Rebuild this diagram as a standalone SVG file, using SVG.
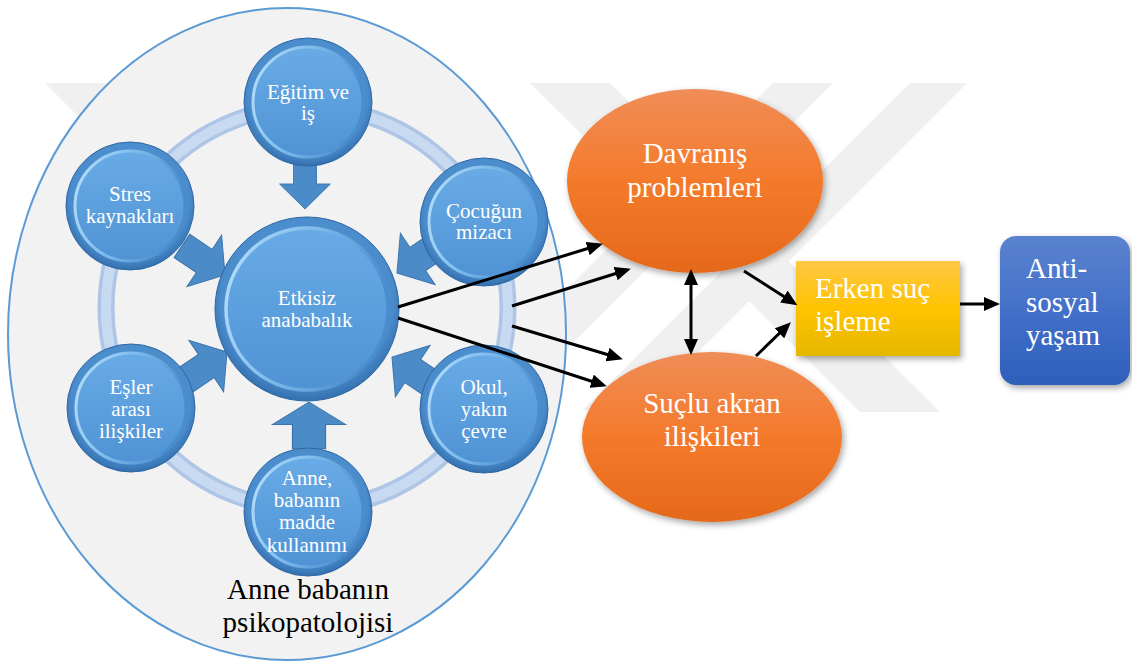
<svg xmlns="http://www.w3.org/2000/svg" xmlns:xlink="http://www.w3.org/1999/xlink" width="1132" height="664" viewBox="0 0 1132 664">
  <style>
    .wm { fill: #f0f0f0; }
    text { font-family: "Liberation Serif", "Times New Roman", serif; }
    .sat-t { font-size: 21px; fill: #ffffff; text-anchor: middle; }
    .big-t { font-size: 29px; fill: #ffffff; text-anchor: middle; }
    .box-t { font-size: 29px; fill: #ffffff; }
    .lbl-t { font-size: 29px; fill: #000000; text-anchor: middle; }
    .blk { fill: #4b8bc8; stroke: #3b74ad; stroke-width: 1; }
    .conn { stroke: #000000; stroke-width: 3; fill: none; }
  </style>
  <defs>
    <radialGradient id="gBallOuter" cx="50%" cy="45%" r="55%">
      <stop offset="0" stop-color="#5d9fdc"/>
      <stop offset="0.85" stop-color="#4a8bcb"/>
      <stop offset="1" stop-color="#336fae"/>
    </radialGradient>
    <linearGradient id="gBallInner" x1="0" y1="0" x2="0" y2="1">
      <stop offset="0" stop-color="#68abe6"/>
      <stop offset="1" stop-color="#4f93d5"/>
    </linearGradient>
    <linearGradient id="gBallRim" x1="0" y1="0" x2="1" y2="0.3">
      <stop offset="0" stop-color="#b9e1fb"/>
      <stop offset="0.5" stop-color="#7fbcec"/>
      <stop offset="1" stop-color="#4a8dcf"/>
    </linearGradient>
    <linearGradient id="gOrange" x1="0" y1="0" x2="0" y2="1">
      <stop offset="0" stop-color="#f08d57"/>
      <stop offset="0.5" stop-color="#f47a2b"/>
      <stop offset="1" stop-color="#e5691b"/>
    </linearGradient>
    <linearGradient id="gGold" x1="0" y1="0" x2="0" y2="1">
      <stop offset="0" stop-color="#ffc845"/>
      <stop offset="0.5" stop-color="#ffc300"/>
      <stop offset="1" stop-color="#e6b700"/>
    </linearGradient>
    <linearGradient id="gBlue" x1="0" y1="0" x2="0" y2="1">
      <stop offset="0" stop-color="#5a83cf"/>
      <stop offset="0.5" stop-color="#4370c8"/>
      <stop offset="1" stop-color="#2d5fbb"/>
    </linearGradient>
    <filter id="shadow" x="-20%" y="-20%" width="140%" height="140%">
      <feDropShadow dx="2" dy="3" stdDeviation="3" flood-color="#000000" flood-opacity="0.35"/>
    </filter>
    <marker id="ah" viewBox="0 0 16 14" markerWidth="16" markerHeight="14" refX="12" refY="7" orient="auto-start-reverse" markerUnits="userSpaceOnUse">
      <path d="M0,0 L16,7 L0,14 Z" fill="#000000"/>
    </marker>
    <!-- fat block arrow, tip at origin pointing along +x -->
    <path id="blockArrow" d="M0,0 L-25,-31 L-25,-14 L-52,-14 L-52,14 L-25,14 L-25,31 Z"/>
    <!-- glossy ball: outer disk with an inner bevelled disk -->
    <g id="ball64">
      <circle r="64" fill="url(#gBallOuter)" stroke="#2f68a3" stroke-width="1"/>
      <circle r="55" fill="url(#gBallInner)" stroke="url(#gBallRim)" stroke-width="3"/>
    </g>
  </defs>

  <rect width="1132" height="664" fill="#ffffff"/>

  <!-- faint background bands -->
  <g id="backdrop">
    <polygon class="wm" points="45,83 175,83 300,208 170,208"/>
    <polygon class="wm" points="530,83 610,83 940,412 860,412"/>
    <polygon class="wm" points="773,83 833,83 560,356 500,356"/>
    <polygon class="wm" points="910,83 967,83 640,410 583,410"/>
  </g>

  <!-- outer container ellipse -->
  <g id="psikopatoloji">
    <ellipse cx="287" cy="334" rx="279" ry="326" fill="#f2f2f2" stroke="#5b9bd5" stroke-width="2"/>
    <text class="lbl-t" x="308" y="599">Anne babanın</text>
    <text class="lbl-t" x="308" y="632">psikopatolojisi</text>
  </g>

  <!-- cycle ring behind the satellites -->
  <g id="ring">
    <circle cx="307" cy="308" r="201" fill="none" stroke="#aec5e6" stroke-width="17"/>
    <circle cx="307" cy="308" r="201" fill="none" stroke="#c8daf1" stroke-width="10"/>
  </g>

  <!-- block arrows feeding the centre -->
  <g id="feeds">
    <use xlink:href="#blockArrow" class="blk" transform="translate(305,209) rotate(90) scale(1,0.82)"/>
    <use xlink:href="#blockArrow" class="blk" transform="translate(309,402) rotate(-90) scale(0.9,1.18)"/>
    <use xlink:href="#blockArrow" class="blk" transform="translate(225,275) rotate(34)"/>
    <use xlink:href="#blockArrow" class="blk" transform="translate(227,352) rotate(-34)"/>
    <use xlink:href="#blockArrow" class="blk" transform="translate(397,273) rotate(146)"/>
    <use xlink:href="#blockArrow" class="blk" transform="translate(392,357) rotate(-146)"/>
  </g>

  <g id="egitim">
    <use xlink:href="#ball64" transform="translate(308,102)"/>
    <text class="sat-t" x="308" y="99">Eğitim ve</text>
    <text class="sat-t" x="308" y="120">iş</text>
  </g>
  <g id="stres">
    <use xlink:href="#ball64" transform="translate(130,206)"/>
    <text class="sat-t" x="130" y="201">Stres</text>
    <text class="sat-t" x="130" y="223">kaynakları</text>
  </g>
  <g id="cocugun">
    <use xlink:href="#ball64" transform="translate(484,222)"/>
    <text class="sat-t" x="484" y="218">Çocuğun</text>
    <text class="sat-t" x="484" y="239">mizacı</text>
  </g>
  <g id="esler">
    <use xlink:href="#ball64" transform="translate(131,408)"/>
    <text class="sat-t" x="131" y="394">Eşler</text>
    <text class="sat-t" x="131" y="416">arası</text>
    <text class="sat-t" x="131" y="438">ilişkiler</text>
  </g>
  <g id="okul">
    <use xlink:href="#ball64" transform="translate(484,409)"/>
    <text class="sat-t" x="484" y="394">Okul,</text>
    <text class="sat-t" x="484" y="416">yakın</text>
    <text class="sat-t" x="484" y="438">çevre</text>
  </g>
  <g id="madde">
    <use xlink:href="#ball64" transform="translate(308,512)"/>
    <text class="sat-t" x="307" y="485">Anne,</text>
    <text class="sat-t" x="307" y="507">babanın</text>
    <text class="sat-t" x="307" y="529">madde</text>
    <text class="sat-t" x="307" y="552">kullanımı</text>
  </g>

  <g id="etkisiz">
    <circle cx="307" cy="309" r="92" fill="url(#gBallOuter)" stroke="#2f68a3" stroke-width="1"/>
    <circle cx="307" cy="309" r="81" fill="url(#gBallInner)" stroke="url(#gBallRim)" stroke-width="3.5"/>
    <text class="sat-t" x="307" y="305">Etkisiz</text>
    <text class="sat-t" x="307" y="327">anababalık</text>
  </g>

  <g id="davranis">
    <ellipse cx="695" cy="181" rx="128" ry="92" fill="url(#gOrange)" filter="url(#shadow)"/>
    <text class="big-t" x="695" y="163">Davranış</text>
    <text class="big-t" x="695" y="197">problemleri</text>
  </g>
  <g id="suclu">
    <ellipse cx="712" cy="437" rx="130" ry="85" fill="url(#gOrange)" filter="url(#shadow)"/>
    <text class="big-t" x="712" y="413">Suçlu akran</text>
    <text class="big-t" x="712" y="446">ilişkileri</text>
  </g>
  <g id="erken">
    <rect x="796" y="261" width="164" height="95" fill="url(#gGold)" filter="url(#shadow)"/>
    <text class="box-t" x="815" y="298">Erken suç</text>
    <text class="box-t" x="815" y="331">işleme</text>
  </g>
  <g id="antisosyal">
    <rect x="1000" y="236" width="130" height="149" rx="16" fill="url(#gBlue)" filter="url(#shadow)"/>
    <text class="box-t" x="1026" y="278">Anti-</text>
    <text class="box-t" x="1026" y="312">sosyal</text>
    <text class="box-t" x="1026" y="345">yaşam</text>
  </g>

  <!-- connectors -->
  <g id="connectors">
    <line class="conn" x1="398" y1="307" x2="599" y2="245" marker-end="url(#ah)"/>
    <line class="conn" x1="512" y1="306" x2="627" y2="270" marker-end="url(#ah)"/>
    <line class="conn" x1="512" y1="326" x2="619" y2="358" marker-end="url(#ah)"/>
    <line class="conn" x1="398" y1="318" x2="603" y2="385" marker-end="url(#ah)"/>
    <line class="conn" x1="691" y1="273" x2="691" y2="351" marker-start="url(#ah)" marker-end="url(#ah)"/>
    <line class="conn" x1="744" y1="271" x2="794" y2="303" marker-end="url(#ah)"/>
    <line class="conn" x1="756" y1="356" x2="788" y2="325" marker-end="url(#ah)"/>
    <line class="conn" x1="960" y1="304" x2="996" y2="304" marker-end="url(#ah)"/>
  </g>
</svg>
